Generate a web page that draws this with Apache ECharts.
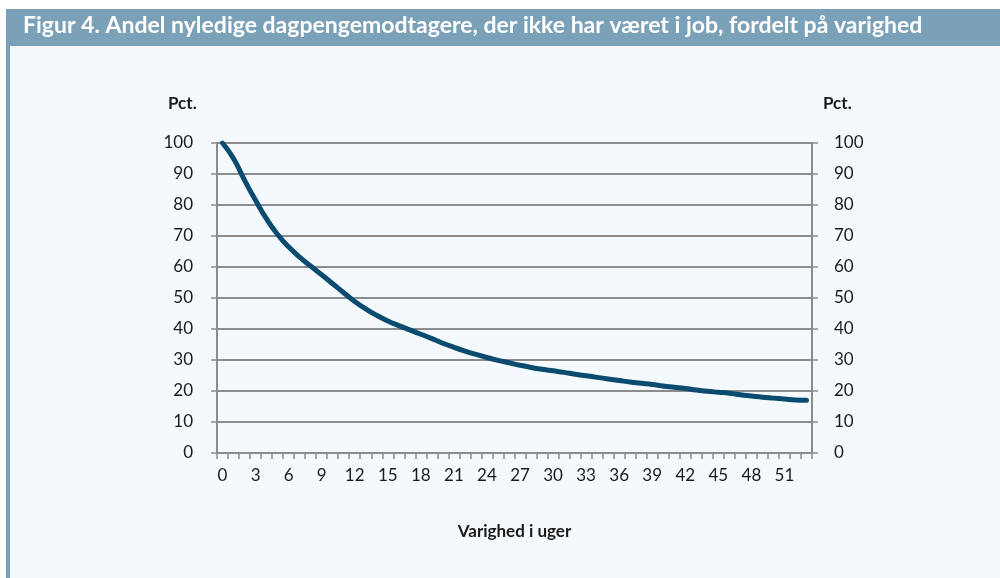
<!DOCTYPE html>
<html>
<head>
<meta charset="utf-8">
<script src="https://cdn.jsdelivr.net/npm/echarts@6/dist/echarts.min.js"></script>
<style>
  html, body { margin: 0; padding: 0; background: #ffffff; }
  #chart { width: 1000px; height: 578px; }
</style>
</head>
<body>
<div id="chart"></div>
<script>
// uger (varighed)
var weeks = ['0','1','2','3','4','5','6','7','8','9','10','11','12','13','14','15','16','17',
  '18','19','20','21','22','23','24','25','26','27','28','29','30','31','32','33','34','35',
  '36','37','38','39','40','41','42','43','44','45','46','47','48','49','50','51','52','53'];
// andel uden job, pct.
var share = [100, 95, 88, 81.5, 75.5, 70.5, 66.5, 63.2, 60.3, 57.5, 54.6, 51.7, 48.9, 46.5, 44.4, 42.6, 41.1, 39.7,
  38.3, 36.9, 35.4, 34.1, 32.9, 31.8, 30.8, 29.9, 29.1, 28.3, 27.6, 27.0, 26.5, 26.0, 25.4, 24.9, 24.4, 23.9,
  23.4, 22.9, 22.5, 22.1, 21.6, 21.2, 20.8, 20.3, 19.9, 19.6, 19.3, 18.8, 18.4, 18.0, 17.7, 17.4, 17.1, 17.0];

var titleText = 'Figur 4. Andel nyledige dagpengemodtagere, der ikke har været i job, fordelt på varighed';
var fontFam = 'Lato, "Open Sans", sans-serif';
var frameColor = '#7ba1b9';
var gridColor = '#8c8c8c';

var chart = echarts.init(document.getElementById('chart'));
var option = {
  backgroundColor: '#ffffff',
  animation: false,
  graphic: [
    { type: 'rect', z: -10, shape: { x: 6, y: 9, width: 994, height: 569 }, style: { fill: '#f4f9fd' } },
    { type: 'rect', z: -9, shape: { x: 6, y: 9, width: 994, height: 37 }, style: { fill: frameColor } },
    { type: 'rect', z: -9, shape: { x: 6, y: 9, width: 4, height: 569 }, style: { fill: frameColor } },
    { type: 'text', left: 23, top: 14, style: { text: titleText, fill: '#ffffff', font: 'bold 23px ' + fontFam } },
    { type: 'text', left: 168, top: 95, style: { text: 'Pct.', fill: '#1a1a1a', font: 'bold 17px ' + fontFam } },
    { type: 'text', left: 823, top: 95, style: { text: 'Pct.', fill: '#1a1a1a', font: 'bold 17px ' + fontFam } }
  ],
  grid: { left: 217, right: 188, top: 143, bottom: 125 },
  xAxis: {
    type: 'category',
    data: weeks,
    boundaryGap: true,
    name: 'Varighed i uger',
    nameLocation: 'middle',
    nameGap: 70,
    nameTextStyle: { fontFamily: fontFam, fontWeight: 'bold', fontSize: 17, color: '#1a1a1a' },
    axisLine: { lineStyle: { color: gridColor, width: 2 } },
    axisTick: { show: true, interval: 0, length: 6, lineStyle: { color: gridColor, width: 1.5 } },
    axisLabel: { interval: 2, margin: 14, fontFamily: fontFam, fontSize: 17, color: '#1a1a1a' },
    splitLine: { show: false }
  },
  yAxis: [
    {
      type: 'value', min: 0, max: 100, interval: 10, position: 'left',
      axisLine: { show: true, lineStyle: { color: gridColor, width: 2 } },
      axisTick: { show: true, length: 6, lineStyle: { color: gridColor, width: 1.5 } },
      axisLabel: { margin: 24, fontFamily: fontFam, fontSize: 17, color: '#1a1a1a' },
      splitLine: { show: true, lineStyle: { color: gridColor, width: 2 } }
    },
    {
      type: 'value', min: 0, max: 100, interval: 10, position: 'right',
      axisLine: { show: true, lineStyle: { color: gridColor, width: 2 } },
      axisTick: { show: true, length: 6, lineStyle: { color: gridColor, width: 1.5 } },
      axisLabel: { margin: 22, fontFamily: fontFam, fontSize: 17, color: '#1a1a1a' },
      splitLine: { show: false }
    }
  ],
  series: [
    {
      type: 'line',
      yAxisIndex: 0,
      data: share,
      smooth: 0.5,
      showSymbol: false,
      lineStyle: { color: '#0a4b6f', width: 5, cap: 'round' },
      z: 5
    }
  ]
};
chart.setOption(option);
</script>
</body>
</html>
